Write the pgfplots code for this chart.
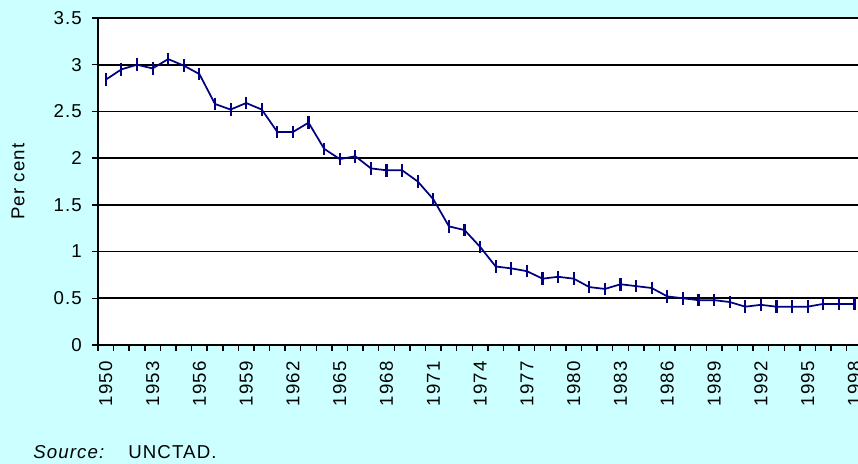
\documentclass[border=0pt]{standalone}
\usepackage{fontspec}
\setmainfont[LetterSpace=6]{Liberation Sans}
\usepackage{pgfplots}
\pgfplotsset{compat=1.18}
\definecolor{bgc}{RGB}{204,255,255}
\definecolor{navyline}{RGB}{0,0,128}
\newcommand{\fs}{\fontsize{14pt}{16pt}\selectfont}
\begin{document}
\begin{tikzpicture}
\useasboundingbox (0,0) rectangle (643.5pt,348pt);
\clip (0,0) rectangle (643.5pt,348pt);
\fill[bgc] (0,0) rectangle (643.5pt,348pt);
\begin{axis}[
  at={(73.5pt,89.25pt)}, anchor=south west,
  scale only axis, width=573.2pt, height=245.25pt,
  xmin=1949.5, xmax=1998.5, ymin=0, ymax=3.5,
  axis background/.style={fill=white},
  axis line style={black, line width=1.3pt},
  xtick={1950,1953,...,1998},
  xticklabels={1950,1953,1956,1959,1962,1965,1968,1971,1974,1977,1980,1983,1986,1989,1992,1995,1998},
  minor xtick={1949.5,1950.5,...,1998.5},
  ytick={0,0.5,...,3.5},
  yticklabels={0,0.5,1,1.5,2,2.5,3,3.5},
  tick align=outside,
  major tick length=4.5pt, minor tick length=4.5pt,
  major x tick style={draw=none},
  every tick/.style={black, line width=1.1pt},
  xtick pos=bottom, ytick pos=left,
  ymajorgrids,
  major grid style={black, line width=1.2pt},
  /pgf/number format/assume math mode=true,
  tick label style={font=\fs},
  xticklabel style={rotate=90, anchor=east, inner xsep=7.5pt, inner ysep=0pt},
  yticklabel style={anchor=east, inner sep=0pt},
  yticklabel shift=7.5pt,
  ylabel={Per cent},
  every axis y label/.style={at={(axis description cs:0,0.5)}, xshift=-60pt, rotate=90, anchor=center, font=\fs},
]
\addplot[navyline, line width=1.3pt, mark=|, mark size=4.7pt, mark options={line width=1.6pt}] coordinates {
(1950,2.84) (1951,2.95) (1952,3.00) (1953,2.96) (1954,3.06) (1955,2.99) (1956,2.90)
(1957,2.58) (1958,2.52) (1959,2.59) (1960,2.52) (1961,2.28) (1962,2.28) (1963,2.38)
(1964,2.10) (1965,1.99) (1966,2.02) (1967,1.89) (1968,1.87) (1969,1.87) (1970,1.75)
(1971,1.56) (1972,1.27) (1973,1.23) (1974,1.05) (1975,0.84) (1976,0.82) (1977,0.79)
(1978,0.71) (1979,0.73) (1980,0.71) (1981,0.62) (1982,0.60) (1983,0.65) (1984,0.63)
(1985,0.61) (1986,0.52) (1987,0.50) (1988,0.48) (1989,0.48) (1990,0.46) (1991,0.41)
(1992,0.43) (1993,0.41) (1994,0.41) (1995,0.41) (1996,0.44) (1997,0.44) (1998,0.44)
};
\end{axis}
\node[anchor=base west, inner sep=0pt, font=\fs] at (24.75pt,3.75pt) {\textit{Source:}};
\node[anchor=base west, inner sep=0pt, font=\fs] at (96pt,3.75pt) {UNCTAD.};
\end{tikzpicture}
\end{document}
